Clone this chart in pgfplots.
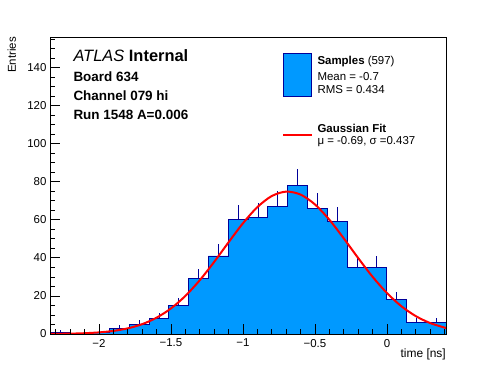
\documentclass[border=0pt]{standalone}
\usepackage{fontspec}
\setmainfont{Liberation Sans}
\usepackage{pgfplots}
\pgfplotsset{compat=1.18}
\definecolor{histfill}{RGB}{0,153,255}
\definecolor{histline}{RGB}{0,0,153}
\begin{document}
\begin{tikzpicture}
\path[use as bounding box] (0,0) rectangle (496bp,372bp);
\begin{axis}[
  at={(50bp,38bp)}, anchor=south west,
  scale only axis, width=396bp, height=297bp,
  xmin=-2.34, xmax=0.41, ymin=0, ymax=156,
  axis on top,
  xtick={-2,-1.5,-1,-0.5,0},
  xticklabels={−2,−1.5,−1,−0.5,0},
  minor xtick={-2.3,-2.2,-2.1,-1.9,-1.8,-1.7,-1.6,-1.4,-1.3,-1.2,-1.1,-0.9,-0.8,-0.7,-0.6,-0.4,-0.3,-0.2,-0.1,0.1,0.2,0.3,0.4},
  ytick={0,20,40,60,80,100,120,140},
  minor ytick={5,10,15,25,30,35,45,50,55,65,70,75,85,90,95,105,110,115,125,130,135,145,150,155},
  tick align=inside, tick pos=left,
  major tick length=10bp, minor tick length=5bp,
  every tick/.style={black, line width=0.7bp},
  axis line style={line width=0.8bp},
  tick label style={font=\fontsize{11.5}{13}\selectfont},
  xticklabel style={yshift=-1.5bp},
  /pgf/number format/assume math mode=true,
]
% histogram (left bin edges, last point = right edge)
\addplot[const plot mark left, fill=histfill, draw=histline, line width=0.8bp] coordinates {
(-2.34,1) (-2.2025,0) (-2.065,1) (-1.9275,3) (-1.79,5) (-1.6525,8) (-1.515,15) (-1.3775,29)
(-1.24,41) (-1.1025,60) (-0.965,61) (-0.8275,67) (-0.69,78) (-0.5525,66) (-0.415,59)
(-0.2775,35) (-0.14,35) (-0.0025,18) (0.135,6) (0.2725,6) (0.41,6)
} \closedcycle;
% statistical error bars (upper halves visible)
\addplot[only marks, mark=*, mark size=0pt, mark options={draw=none, fill=none}, forget plot,
  error bars/.cd, y dir=plus, y explicit, error mark=none,
  error bar style={draw=histline, solid, line width=0.8bp}] coordinates {
(-2.27125,1) +- (0,1)
(-1.99625,1) +- (0,1)
(-1.85875,3) +- (0,1.732)
(-1.72125,5) +- (0,2.236)
(-1.58375,8) +- (0,2.828)
(-1.44625,15) +- (0,3.873)
(-1.30875,29) +- (0,5.385)
(-1.17125,41) +- (0,6.403)
(-1.03375,60) +- (0,7.746)
(-0.89625,61) +- (0,7.810)
(-0.75875,67) +- (0,8.185)
(-0.62125,78) +- (0,8.832)
(-0.48375,66) +- (0,8.124)
(-0.34625,59) +- (0,7.681)
(-0.20875,35) +- (0,5.916)
(-0.07125,35) +- (0,5.916)
(0.06625,18) +- (0,4.243)
(0.20375,6) +- (0,2.449)
(0.34125,6) +- (0,2.449)
};
% gaussian fit curve
\addplot[red, line width=2bp, smooth, mark=none] coordinates {
(-2.34,0.06) (-2.3,0.08) (-2.2,0.19) (-2.1,0.41) (-2.0,0.84) (-1.9,1.62) (-1.8,2.97)
(-1.7,5.17) (-1.6,8.56) (-1.5,13.43) (-1.4,19.99) (-1.3,28.24) (-1.2,37.86) (-1.1,48.17)
(-1.0,58.16) (-0.9,66.65) (-0.8,72.46) (-0.7,74.78) (-0.6,73.23) (-0.5,68.05) (-0.4,60.02)
(-0.3,50.23) (-0.2,39.90) (-0.1,30.07) (0.0,21.51) (0.1,14.59) (0.2,9.40) (0.3,5.75) (0.41,3.15)
};
\end{axis}
% axis titles
\node[rotate=90, anchor=east, inner sep=0, font=\fontsize{11.5}{14}\selectfont] at (11.7bp,335bp) {Entries};
\node[anchor=base east, inner sep=0, font=\fontsize{12}{14}\selectfont] at (446bp,14.7bp) {time [ns]};
% ATLAS label block
\node[anchor=base west, inner sep=0, font=\fontsize{16.5}{19}\selectfont] at (73.3bp,310.7bp) {\textit{ATLAS} \textbf{Internal}};
\node[anchor=base west, inner sep=0, font=\fontsize{13.5}{16}\selectfont\bfseries] at (73.3bp,290.7bp) {Board 634};
\node[anchor=base west, inner sep=0, font=\fontsize{13.5}{16}\selectfont\bfseries] at (73.3bp,271.3bp) {Channel 079 hi};
\node[anchor=base west, inner sep=0, font=\fontsize{13.5}{16}\selectfont\bfseries] at (73.3bp,252bp) {Run 1548 A=0.006};
% legend
\filldraw[fill=histfill, draw=histline, line width=0.8bp] (283.3bp,275.3bp) rectangle (311.7bp,318.7bp);
\node[anchor=base west, inner sep=0, font=\fontsize{11.5}{14}\selectfont] at (317.3bp,307bp) {\textbf{Samples} (597)};
\node[anchor=base west, inner sep=0, font=\fontsize{11.5}{14}\selectfont] at (317.3bp,291.3bp) {Mean = -0.7};
\node[anchor=base west, inner sep=0, font=\fontsize{11.5}{14}\selectfont] at (317.3bp,278bp) {RMS = 0.434};
\draw[red, line width=2bp] (283.3bp,237bp) -- (311.7bp,237bp);
\node[anchor=base west, inner sep=0, font=\fontsize{11.5}{14}\selectfont] at (317.3bp,239.7bp) {\textbf{Gaussian Fit}};
\node[anchor=base west, inner sep=0, font=\fontsize{11.5}{14}\selectfont] at (317.3bp,227.7bp) {μ = -0.69, σ =0.437};
\end{tikzpicture}
\end{document}
